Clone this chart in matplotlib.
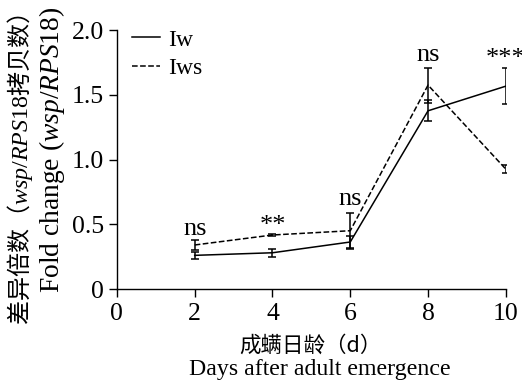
import matplotlib
matplotlib.use("Agg")
import matplotlib.pyplot as plt
from matplotlib.lines import Line2D

# data
days = [2, 4, 6, 8, 10]
iw_mean = [0.262, 0.282, 0.365, 1.377, 1.567]
iw_err = [0.025, 0.03, 0.05, 0.08, 0.14]
iws_mean = [0.342, 0.419, 0.452, 1.575, 0.927]
iws_err = [0.035, 0.01, 0.14, 0.135, 0.03]
sig_labels = ["ns", "**", "ns", "ns", "***"]
sig_y = [0.42, 0.44, 0.65, 1.76, 1.73]

plt.rcParams['font.family'] = ['Liberation Serif', 'DejaVu Serif']
plt.rcParams['mathtext.fontset'] = 'custom'
plt.rcParams['mathtext.rm'] = 'Liberation Serif'
plt.rcParams['mathtext.it'] = 'Liberation Serif:italic'

fig = plt.figure(figsize=(5.22, 3.83), dpi=100)
ax = fig.add_axes([0.224, 0.2446, 0.745, 0.677])

ax.errorbar(days, iw_mean, yerr=iw_err, color='black', lw=1.1, capsize=3,
            elinewidth=1.1, capthick=1.1)
ax.errorbar(days, iws_mean, yerr=iws_err, color='black', lw=1.1, ls='--',
            capsize=3, elinewidth=1.1, capthick=1.1)

for x, s, y in zip(days, sig_labels, sig_y):
    ax.text(x, y, s, ha='center', va='baseline', fontsize=19)

ax.set_xlim(0, 10)
ax.set_ylim(0, 2.0)
ax.set_xticks([0, 2, 4, 6, 8, 10])
ax.set_yticks([0, 0.5, 1.0, 1.5, 2.0])
ax.set_yticklabels(['0', '0.5', '1.0', '1.5', '2.0'])
ax.tick_params(labelsize=18.5, length=6, width=1, direction='out', pad=3.5)
for side in ['top', 'right']:
    ax.spines[side].set_visible(False)
for side in ['left', 'bottom']:
    ax.spines[side].set_linewidth(1)

handles = [Line2D([], [], color='black', lw=1.1),
           Line2D([], [], color='black', lw=1.1, ls='--')]
ax.legend(handles, ['Iw', 'Iws'], loc='upper left', frameon=False, fontsize=17,
          handlelength=1.2, handletextpad=0.35, borderaxespad=0.0,
          bbox_to_anchor=(0.014, 1.04), labelspacing=0.3)

# axis titles (Chinese + English)
fig.text(310 / 522, 1 - 346 / 383, '成螨日龄（d）', ha='center', va='center',
         fontsize=15.5, family=['Noto Sans CJK SC', 'DejaVu Sans'])
fig.text(320 / 522, 1 - 370 / 383, 'Days after adult emergence', ha='center',
         va='center', fontsize=17.2)
fig.text(20 / 522, 1 - 170 / 383, '差异倍数（$\\mathit{wsp/RPS18}$拷贝数）',
         rotation=90, ha='center', va='center', fontsize=17.3,
         family=['Noto Sans CJK SC'])
fig.text(52 / 522, 1 - 150 / 383, 'Fold change ($\\mathit{wsp/RPS18}$)',
         rotation=90, ha='center', va='center', fontsize=19.8)

fig.savefig('out.png', dpi=100)
